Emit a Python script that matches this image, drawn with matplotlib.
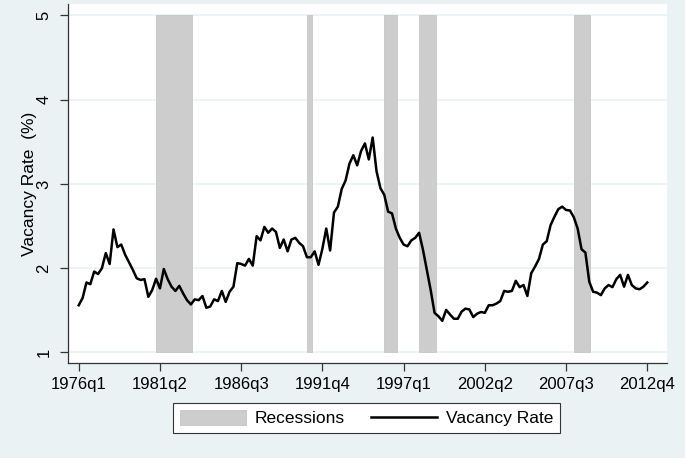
import matplotlib
matplotlib.use("Agg")
import matplotlib.pyplot as plt
from matplotlib.patches import Patch
from matplotlib.lines import Line2D

matplotlib.rcParams['font.family'] = ['Liberation Sans', 'DejaVu Sans']

# quarterly vacancy rate, 1976q1 .. 2012q4 (148 quarters)
first_year = 1976
vacancy = [
    1.56, 1.645, 1.83, 1.81, 1.96, 1.93, 2.00, 2.18, 2.05, 2.46,
    2.25, 2.28, 2.16, 2.07, 1.98, 1.88, 1.86, 1.87, 1.66, 1.74,
    1.875, 1.76, 1.99, 1.87, 1.78, 1.73, 1.79, 1.70, 1.62, 1.57,
    1.63, 1.62, 1.67, 1.53, 1.545, 1.63, 1.61, 1.73, 1.60, 1.72,
    1.78, 2.06, 2.05, 2.03, 2.11, 2.03, 2.38, 2.33, 2.49, 2.42,
    2.47, 2.43, 2.24, 2.34, 2.20, 2.34, 2.36, 2.30, 2.26, 2.13,
    2.13, 2.20, 2.04, 2.23, 2.47, 2.21, 2.66, 2.73, 2.94, 3.04,
    3.24, 3.34, 3.22, 3.39, 3.48, 3.29, 3.55, 3.15, 2.95, 2.87,
    2.67, 2.65, 2.47, 2.36, 2.28, 2.26, 2.33, 2.36, 2.42, 2.22,
    1.98, 1.74, 1.47, 1.43, 1.375, 1.505, 1.45, 1.40, 1.40, 1.485,
    1.52, 1.51, 1.42, 1.46, 1.48, 1.47, 1.56, 1.56, 1.58, 1.61,
    1.73, 1.72, 1.73, 1.85, 1.775, 1.80, 1.67, 1.94, 2.02, 2.11,
    2.28, 2.32, 2.51, 2.61, 2.70, 2.73, 2.69, 2.685, 2.605, 2.47,
    2.225, 2.185, 1.84, 1.72, 1.71, 1.68, 1.76, 1.80, 1.775, 1.87,
    1.92, 1.78, 1.92, 1.80, 1.76, 1.75, 1.78, 1.83,
]

rec_start = ["1981q1", "1990q4", "1995q4", "1998q1", "2008q1"]
rec_end = ["1983q2", "1991q1", "1996q3", "1999q1", "2009q1"]

tick_labels = ["1976q1", "1981q2", "1986q3", "1991q4",
               "1997q1", "2002q2", "2007q3", "2012q4"]


def qidx(s):
    y, q = s.split("q")
    return (int(y) - first_year) * 4 + int(q) - 1


bg = "#eaf2f3"
rec_col = "#cdcdcd"

fig = plt.figure(figsize=(6.85, 4.58), dpi=100, facecolor=bg)
ax = fig.add_axes([68/685, 1 - 363/458, 599/685, 359/458])
ax.set_facecolor("white")

# gridlines under everything
for v in [1, 2, 3, 4, 5]:
    ax.axhline(v, color=bg, lw=1.2, zorder=0)

starts = [qidx(s) for s in rec_start]
widths = [qidx(e) - qidx(s) + 0.25 for s, e in zip(rec_start, rec_end)]
ax.bar(starts, [4] * len(starts), bottom=1, width=widths, align='edge',
       color=rec_col, edgecolor="#c6c6c6", linewidth=0.6, zorder=1)

ax.plot(range(len(vacancy)), vacancy, color="black", lw=1.8, zorder=2)

ax.set_xlim(-2.77, 152.1)
ax.set_ylim(0.875, 5.134)

ax.set_xticks([qidx(t) for t in tick_labels], tick_labels)
ax.set_yticks([1, 2, 3, 4, 5], ["1", "2", "3", "4", "5"])
for lab in ax.get_yticklabels():
    lab.set_rotation(90)
    lab.set_va("center")
ax.tick_params(axis='x', length=6, width=0.9, color="#333333", labelsize=12, pad=4)
ax.tick_params(axis='y', length=6, width=0.9, color="#333333", labelsize=12, pad=6)

for side in ["top", "right"]:
    ax.spines[side].set_visible(False)
for side in ["left", "bottom"]:
    ax.spines[side].set_color("#333333")
    ax.spines[side].set_linewidth(0.9)

ax.set_ylabel("Vacancy Rate  (%)", fontsize=12.5, va="center")
ax.yaxis.set_label_coords((30 - 68) / 599, 0.5)

handles = [Patch(facecolor=rec_col, edgecolor="#c6c6c6", linewidth=0.6),
           Line2D([], [], color="black", lw=1.8)]
leg = fig.legend(handles, ["Recessions", "Vacancy Rate"], loc="center",
                 bbox_to_anchor=(366.5/685, 1 - 418/458), ncol=2,
                 fontsize=12.5, frameon=True, fancybox=False,
                 edgecolor="#333333", framealpha=1, handlelength=3.8,
                 handleheight=1.0, handletextpad=0.5, columnspacing=1.5,
                 borderpad=0.4)
leg.get_frame().set_linewidth(0.8)

fig.savefig("out.png", dpi=100, facecolor=bg)
